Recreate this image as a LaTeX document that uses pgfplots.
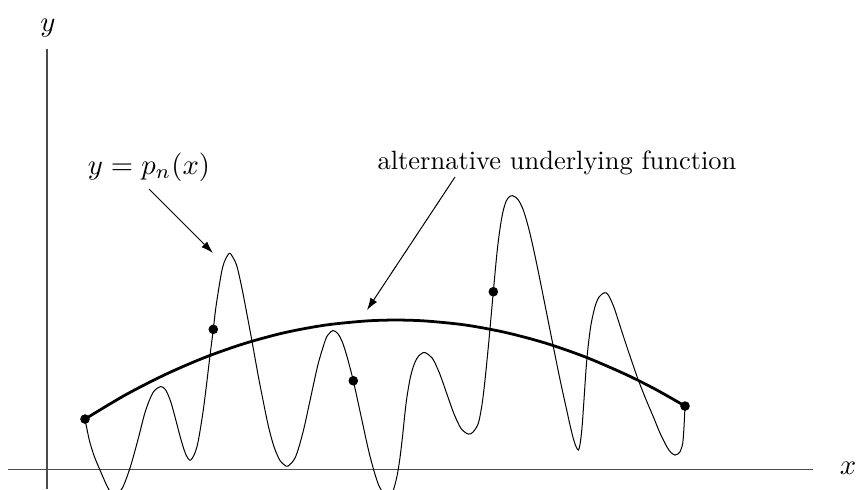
\documentclass[border=0pt]{standalone}
\usepackage{pgfplots}
\pgfplotsset{compat=1.18}
\usetikzlibrary{arrows.meta}

\begin{document}
\begin{tikzpicture}
\begin{axis}[
  scale only axis,
  width=324pt, height=184.9pt,
  xmin=-47, xmax=810, ymin=-19.5, ymax=469.5,
  hide axis,
  clip=true,
]
% frame of the picture
\path (axis cs:-47,-19.5) rectangle (axis cs:810,469.5);

% coordinate axes
\draw[black!70, line width=0.4pt] (axis cs:-39,0) -- (axis cs:766,0);
\draw[black!70, line width=0.4pt] (axis cs:0,-19.5) -- (axis cs:0,420.5);
\node[scale=1.085] at (axis cs:1,441) {$y$};
\node[scale=1.085] at (axis cs:801,1) {$x$};

% interpolating polynomial p_n
\addplot[black, line width=0.38pt, smooth] coordinates {
  (38,50.5) (42.3,29.5) (47,14) (53,-0.5) (60,-16.5) (64,-23) (67.5,-26)
  (75.2,-18.7) (82.9,1.25) (90.6,28.5) (98.3,58) (106,77) (113.7,83)
  (118.7,79.5) (123.7,68) (128.7,50) (133.7,31) (138.7,15.5) (143.7,9.5)
  (150.1,23.3) (156.5,61.1) (162.85,112.75) (166.3,140.2) (169.2,164.4)
  (175.6,202.2) (182,216)
  (186,212) (190,203) (195,181) (200,155) (204.7,130) (209,106) (213,84.5)
  (221,45) (226,26) (229,17.5) (233,9) (237,5) (241,3.5)
  (248.5,12.6) (256,37.4) (263.5,71.25) (271,105.1) (278.5,129.9)
  (282,135.8) (286,139) (290.6,136.2)
  (295.2,127.9) (300,113) (306.3,88.8) (313.5,56) (322.7,14.5) (331.8,-15.9)
  (341,-28) (345,-24) (348,-15) (350.5,-4) (353,12) (355.5,33) (358,57)
  (360,73) (363,90.5) (366,102) (369,109.5) (372,114) (375,116.3) (378,117)
  (385.2,111.5) (392.4,96.6) (399.65,76.25) (406.9,55.9) (414.1,41)
  (421.3,35.5)
  (426,37.5) (431.3,46.2) (435,65) (438,89.5) (442,130) (446.3,177.8)
  (450,217) (453,241) (456,258) (459,268) (462,272.5) (465.7,273.8)
  (471,270) (476.3,259.5) (482,240) (487.5,216) (493,189.5) (499.5,157)
  (506.3,123) (513,90) (519.7,59.5) (523,44.5) (526.3,31) (529,23)
  (531.3,19.5)
  (533,25) (535,42) (537,70) (539,100) (541,122) (544,145) (548,163)
  (552,172.5) (557.3,176.8)
  (561,175) (566.3,164) (571,150) (576.3,133.5) (584,110.5) (591.3,89.5)
  (599,70) (606.3,52.8) (613,36.5) (619.7,23) (624,17) (628,14.5)
  (631,15.6) (633,17.8) (635.7,26.2) (637,42.8) (638,63.5)
};

% alternative underlying function
\addplot[black, line width=1.05pt, smooth] coordinates {
  (38,50.5) (78,74.4) (118,94.9) (158,112.2) (198,126.2) (238,137)
  (278,144.4) (318,148.5) (348,149.5) (378,148.6) (418,144.6) (458,137.2)
  (498,126.6) (538,112.7) (578,95.5) (608,80.5) (638,63.5)
};

% interpolation nodes
\addplot[only marks, mark=*, mark size=1.6pt, black] coordinates {
  (38,50.5) (166.3,140.2) (306.3,88.8) (446.3,177.8) (638,63.5)
};

% annotations
\node[scale=1.085] at (axis cs:102,302.5) {$y = p_n(x)$};
\draw[-{Latex[length=4.6pt,width=3pt]}, line width=0.38pt]
  (axis cs:102,280.5) -- (axis cs:166,216.5);
\node at (axis cs:510,306.5) {alternative underlying function};
\draw[-{Latex[length=4.6pt,width=3pt]}, line width=0.38pt]
  (axis cs:408,292.5) -- (axis cs:320,159.5);
\end{axis}
\end{tikzpicture}
\end{document}
